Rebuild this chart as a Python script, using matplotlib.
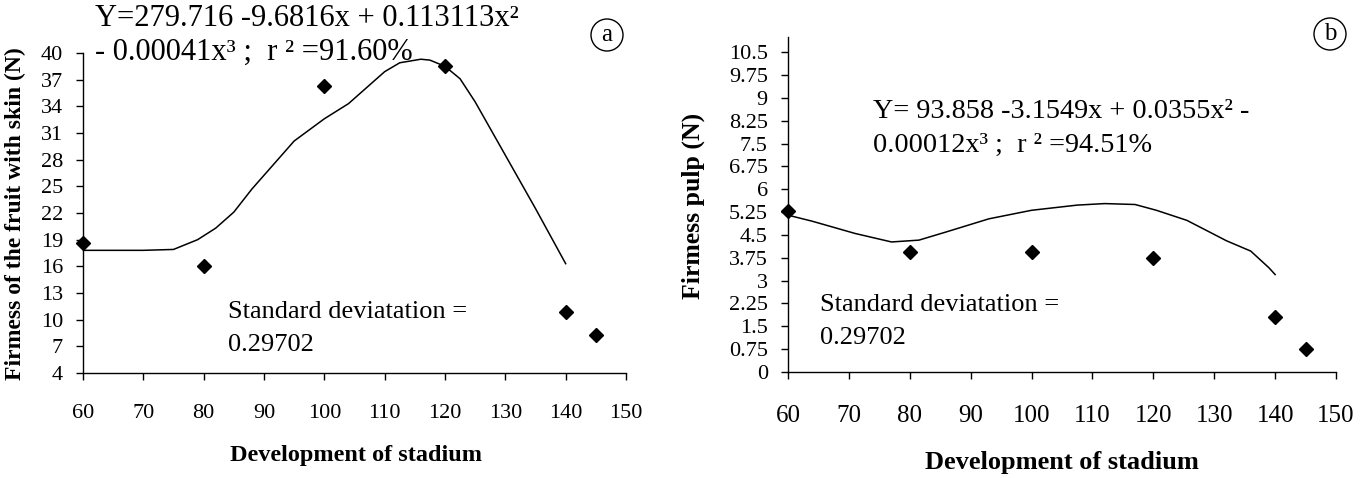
import matplotlib
matplotlib.use('Agg')
import matplotlib.pyplot as plt

# ---- data ----
stadium = [60, 80, 100, 120, 140, 145]

# (a) firmness of the fruit with skin (N)
skin_obs = [18.6, 16.0, 36.3, 38.5, 10.9, 8.3]
skin_fit_x = [60, 65, 70, 75, 79, 82, 85, 88, 91.5, 95, 100, 104, 110,
              112.5, 116, 117.5, 120, 122.5, 125, 130, 135, 140]
skin_fit_y = [17.8, 17.8, 17.8, 17.9, 19.0, 20.3, 22.1, 24.7, 27.4, 30.1,
              32.6, 34.3, 37.9, 38.9, 39.3, 39.2, 38.5, 37.1, 34.5, 28.5,
              22.5, 16.3]

# (b) firmness pulp (N)
pulp_obs = [5.28, 3.93, 3.95, 3.75, 1.8, 0.75]
pulp_fit_x = [60, 64, 71, 77, 81.5, 86, 93, 100, 107.5, 112, 117, 120.5,
              125.5, 129, 132, 136, 139, 140]
pulp_fit_y = [5.15, 4.95, 4.55, 4.27, 4.33, 4.6, 5.03, 5.31, 5.48, 5.53,
              5.5, 5.31, 4.98, 4.62, 4.31, 3.97, 3.42, 3.2]

x_ticks = [60, 70, 80, 90, 100, 110, 120, 130, 140, 150]
skin_ticks = [4, 7, 10, 13, 16, 19, 22, 25, 28, 31, 34, 37, 40]
pulp_ticks = [0, 0.75, 1.5, 2.25, 3, 3.75, 4.5, 5.25, 6, 6.75, 7.5, 8.25, 9,
              9.75, 10.5]
pulp_tick_labels = ['0', '0.75', '1.5', '2.25', '3', '3.75', '4.5', '5.25',
                    '6', '6.75', '7.5', '8.25', '9', '9.75', '10.5']

plt.rcParams['font.family'] = ['Liberation Serif', 'DejaVu Serif']

W, H = 1371, 478
fig = plt.figure(figsize=(W / 100, H / 100), dpi=100)


def px(x, y):
    # pixel position in the picture -> figure fraction
    return x / W, 1 - y / H


def style_axes(ax, xsize, xpad):
    for s in ['top', 'right']:
        ax.spines[s].set_visible(False)
    for s in ['left', 'bottom']:
        ax.spines[s].set_linewidth(1.0)
    ax.tick_params(axis='y', direction='out', length=5, width=1, pad=9.5,
                   labelsize=16)
    ax.tick_params(axis='x', direction='out', length=5, width=1, pad=xpad,
                   labelsize=xsize)
    ax.set_xlim(60, 150)
    ax.set_xticks(x_ticks)


# ---------------- panel (a) ----------------
ax1 = fig.add_axes([83 / W, 1 - 373 / H, (626 - 83) / W, (373 - 53) / H])
style_axes(ax1, 16, 17)
ax1.set_ylim(4, 40)
ax1.set_yticks(skin_ticks)
ax1.plot(skin_fit_x, skin_fit_y, color='black', lw=1.1)
ax1.plot(stadium, skin_obs, 'D', color='black', ms=7, clip_on=False)

fig.text(*px(95, 18), 'Y=279.716 -9.6816x + 0.113113x²', fontsize=22,
         va='center', ha='left')
fig.text(*px(95, 52), '- 0.00041x³ ;  r ² =91.60%', fontsize=22,
         va='center', ha='left')
fig.text(*px(228, 312), 'Standard deviatation =', fontsize=19,
         va='center', ha='left')
fig.text(*px(228, 345), '0.29702', fontsize=19, va='center', ha='left')
fig.text(*px(15, 214), 'Firmess of the fruit with skin (N)', rotation=90,
         fontsize=17, fontweight='bold', va='center', ha='center')
fig.text(*px(356, 455), 'Development of stadium', fontsize=17.5,
         fontweight='bold', va='center', ha='center')
fig.text(*px(607, 35), 'a', fontsize=18, va='center', ha='center',
         bbox=dict(boxstyle='circle,pad=0.2', fc='none', ec='black', lw=1))

# ---------------- panel (b) ----------------
ax2 = fig.add_axes([788 / W, 1 - 372 / H, (1336 - 788) / W, (372 - 37) / H])
style_axes(ax2, 18, 19)
ax2.set_ylim(0, 11.0)
ax2.set_yticks(pulp_ticks)
ax2.set_yticklabels(pulp_tick_labels)
ax2.plot(pulp_fit_x, pulp_fit_y, color='black', lw=1.1)
ax2.plot(stadium, pulp_obs, 'D', color='black', ms=7, clip_on=False)

fig.text(*px(873, 112), 'Y= 93.858 -3.1549x + 0.0355x² -', fontsize=20.3,
         va='center', ha='left')
fig.text(*px(873, 145), '0.00012x³ ;  r ² =94.51%', fontsize=20.3,
         va='center', ha='left')
fig.text(*px(820, 305), 'Standard deviatation =', fontsize=19,
         va='center', ha='left')
fig.text(*px(820, 338), '0.29702', fontsize=19, va='center', ha='left')
fig.text(*px(693, 206), 'Firmess pulp (N)', rotation=90, fontsize=18.5,
         fontweight='bold', va='center', ha='center')
fig.text(*px(1062, 463), 'Development of stadium', fontsize=19,
         fontweight='bold', va='center', ha='center')
fig.text(*px(1330, 34), 'b', fontsize=18, va='center', ha='center',
         bbox=dict(boxstyle='circle,pad=0.2', fc='none', ec='black', lw=1))

fig.savefig('out.png', dpi=100)
